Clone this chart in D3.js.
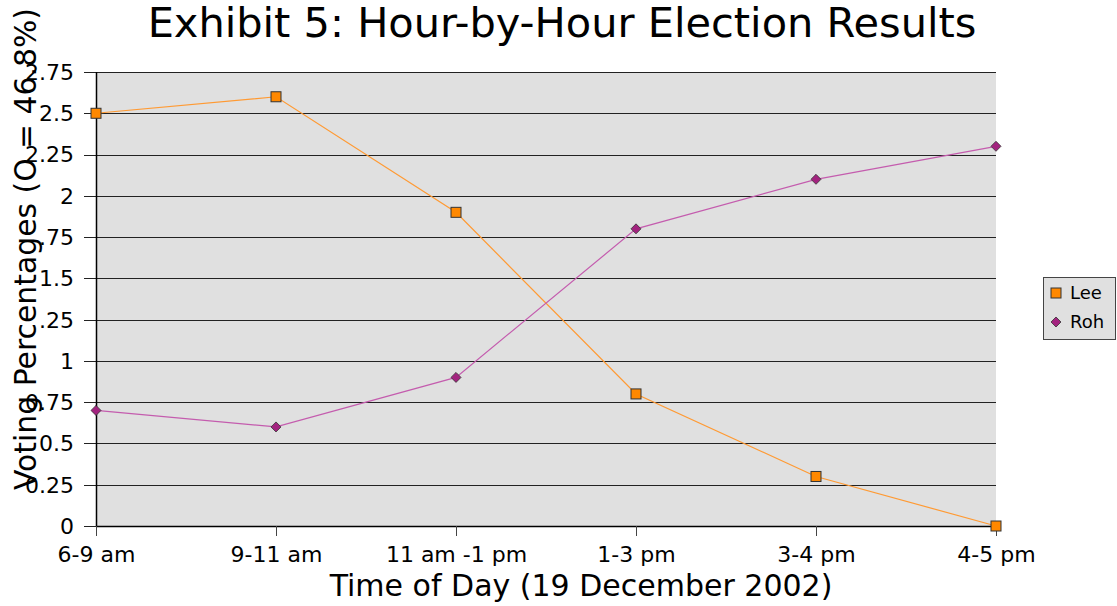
<!DOCTYPE html>
<html>
<head>
<meta charset="utf-8">
<script src="https://cdn.jsdelivr.net/npm/d3@7"></script>
<style>
  body { margin: 0; background: #fff; }
  text { font-family: "DejaVu Sans", sans-serif; }
</style>
</head>
<body>
<div id="chart"></div>
<script>
const hours = ["6-9 am", "9-11 am", "11 am -1 pm", "1-3 pm", "3-4 pm", "4-5 pm"];
const lee = [2.5, 2.6, 1.9, 0.8, 0.3, 0.0];
const roh = [0.7, 0.6, 0.9, 1.8, 2.1, 2.3];
const yTicks = [0, 0.25, 0.5, 0.75, 1, 1.25, 1.5, 1.75, 2, 2.25, 2.5, 2.75];
const yTickLabels = ["0", "0.25", "0.5", "0.75", "1", ".25", "1.5", ".75", "2", "2.25", "2.5", "2.75"];

const width = 1117, height = 606;
const marginLeft = 96, marginRight = 121, marginTop = 72, marginBottom = 80;

const svg = d3.select("#chart").append("svg")
  .attr("width", width)
  .attr("height", height);

const x = d3.scalePoint()
  .domain(hours)
  .range([marginLeft, width - marginRight]);

const y = d3.scaleLinear()
  .domain([0, 2.75])
  .range([height - marginBottom, marginTop]);

// plot background
svg.append("rect")
  .attr("x", marginLeft).attr("y", marginTop)
  .attr("width", width - marginRight - marginLeft)
  .attr("height", y(0) - marginTop)
  .attr("fill", "#e0e0e0");

// gridlines
svg.append("g")
  .selectAll("line")
  .data(yTicks)
  .join("line")
    .attr("x1", marginLeft - 12)
    .attr("x2", width - marginRight)
    .attr("y1", d => Math.round(y(d)) + 0.5)
    .attr("y2", d => Math.round(y(d)) + 0.5)
    .attr("stroke", "#222")
    .attr("stroke-width", 1);

// y tick labels
svg.append("g")
  .selectAll("text")
  .data(yTicks)
  .join("text")
    .attr("x", marginLeft - 22)
    .attr("y", d => y(d))
    .attr("dy", "0.36em")
    .attr("text-anchor", "end")
    .style("font-size", "22px")
    .attr("fill", "#000")
    .text((d, i) => yTickLabels[i]);

// x axis
svg.append("g")
  .attr("transform", `translate(0,${y(0)})`)
  .call(d3.axisBottom(x).tickSize(10).tickPadding(10).tickSizeOuter(0))
  .call(g => g.select(".domain").attr("stroke", "#000").attr("stroke-width", 1.5))
  .call(g => g.selectAll(".tick line").attr("stroke", "#444"))
  .call(g => g.selectAll(".tick text")
    .style("font-size", "22px")
    .style("font-family", "'DejaVu Sans', sans-serif")
    .attr("fill", "#000"));

// y axis line
svg.append("line")
  .attr("x1", marginLeft + 0.5).attr("x2", marginLeft + 0.5)
  .attr("y1", marginTop).attr("y2", y(0))
  .attr("stroke", "#000").attr("stroke-width", 1.5);

// series lines
const line = d3.line()
  .x((d, i) => x(hours[i]))
  .y(d => y(d));

svg.append("path")
  .datum(lee)
  .attr("d", line)
  .attr("fill", "none")
  .attr("stroke", "#ff9a33")
  .attr("stroke-width", 1.2);

svg.append("path")
  .datum(roh)
  .attr("d", line)
  .attr("fill", "none")
  .attr("stroke", "#c45cae")
  .attr("stroke-width", 1.2);

// markers
svg.append("g")
  .selectAll("rect")
  .data(lee)
  .join("rect")
    .attr("x", (d, i) => x(hours[i]) - 5)
    .attr("y", d => y(d) - 5)
    .attr("width", 10).attr("height", 10)
    .attr("fill", "#ff8800")
    .attr("stroke", "#333")
    .attr("stroke-width", 1);

const diamond = d3.symbol().type(d3.symbolDiamond2).size(64);
svg.append("g")
  .selectAll("path")
  .data(roh)
  .join("path")
    .attr("transform", (d, i) => `translate(${x(hours[i])},${y(d)})`)
    .attr("d", diamond)
    .attr("fill", "#a3237f")
    .attr("stroke", "#333")
    .attr("stroke-width", 0.8);

// title
svg.append("text")
  .attr("x", 562).attr("y", 37)
  .attr("text-anchor", "middle")
  .style("font-size", "41.5px")
  .text("Exhibit 5: Hour-by-Hour Election Results");

// x axis title
svg.append("text")
  .attr("x", 581).attr("y", 596)
  .attr("text-anchor", "middle")
  .style("font-size", "30px")
  .text("Time of Day (19 December 2002)");

// y axis title
svg.append("text")
  .attr("transform", "translate(36,249) rotate(-90)")
  .attr("text-anchor", "middle")
  .attr("textLength", 482)
  .attr("lengthAdjust", "spacingAndGlyphs")
  .style("font-size", "31px")
  .text("Voting Percentages (O = 46.8%)");

// legend
const legend = svg.append("g").attr("transform", "translate(1043,277)");
legend.append("rect")
  .attr("x", 0.5).attr("y", 0.5)
  .attr("width", 72).attr("height", 62)
  .attr("fill", "#e0e0e0")
  .attr("stroke", "#444");

legend.append("rect")
  .attr("x", 8).attr("y", 11)
  .attr("width", 10).attr("height", 10)
  .attr("fill", "#ff8800").attr("stroke", "#333");
legend.append("path")
  .attr("transform", "translate(13,45)")
  .attr("d", diamond)
  .attr("fill", "#a3237f").attr("stroke", "#333").attr("stroke-width", 0.8);

legend.append("text")
  .attr("x", 27).attr("y", 16).attr("dy", "0.36em")
  .style("font-size", "18px").text("Lee");
legend.append("text")
  .attr("x", 27).attr("y", 45).attr("dy", "0.36em")
  .style("font-size", "18px").text("Roh");
</script>
</body>
</html>
